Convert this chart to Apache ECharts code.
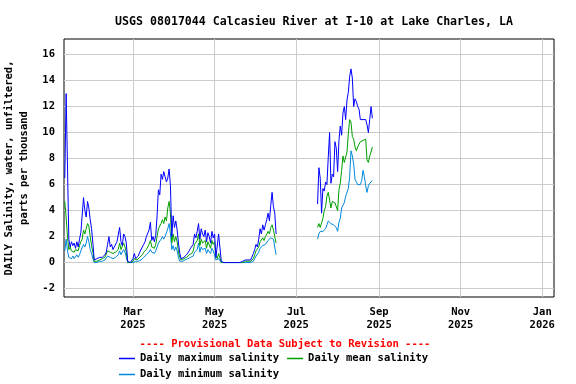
<!DOCTYPE html>
<html>
<head>
<meta charset="utf-8">
<script src="https://cdn.jsdelivr.net/npm/echarts@6/dist/echarts.min.js"></script>
<style>
  html, body { margin: 0; padding: 0; background: #fff; }
  #main { width: 576px; height: 384px; }
</style>
</head>
<body>
<div id="main"></div>
<script type="text/javascript">
// daily values, segment 1 starts 2025-01-09, segment 2 starts 2025-07-17
var seg1Start = [2025, 0, 9];
var seg2Start = [2025, 6, 17];

var maxSeg1 = [
  6.5, 13.0, 7.5, 1.8, 1.2, 1.6, 1.3, 1.5, 1.1, 1.6,
  1.2, 1.8, 2.3, 2.2, 5.0, 4.0, 3.5, 4.7, 4.2, 3.3,
  2.6, 1.5, 0.2, 0.2, 0.3, 0.3, 0.4, 0.4, 0.4, 0.5,
  0.6, 0.8, 1.4, 2.0, 1.2, 1.4, 1.0, 1.2, 1.1, 1.6,
  1.5, 2.7, 1.6, 1.3, 2.2, 2.0, 1.5, 0.1, 0.0, 0.0,
  0.1, 0.3, 0.7, 0.3, 0.4, 0.5, 0.8, 0.9, 1.2, 1.4,
  1.6, 2.0, 1.9, 2.5, 3.1, 1.7, 2.0, 1.6, 2.1, 3.6,
  5.6, 5.2, 6.8, 6.4, 7.0, 6.6, 6.2, 6.5, 7.2, 5.9,
  2.0, 3.6, 2.7, 3.2, 2.5, 1.5, 0.7, 0.3, 0.3, 0.4,
  0.4, 0.6, 0.7, 0.9, 1.1, 1.0, 1.4, 2.2, 1.9, 2.4,
  3.0, 1.8, 2.6, 2.2, 2.0, 2.5, 1.6, 2.3, 2.0, 1.5,
  2.4, 1.9, 2.2, 0.4, 0.3, 2.2, 2.2, 0.1, 0.0, 0.0,
  0.0, 0.0, 0.0, 0.0, 0.0, 0.0, 0.0, 0.0, 0.0, 0.0,
  0.0, 0.0, 0.0, 0.1, 0.1, 0.2, 0.1, 0.2, 0.3, 0.2,
  0.3, 0.7, 1.0, 1.4, 1.2, 1.8, 2.6, 2.2, 2.9, 2.5,
  2.9, 3.3, 3.8, 3.2, 4.4, 5.4, 4.3, 3.8, 2.2
];
var meanSeg1 = [
  4.7, 3.5, 2.0, 1.0, 1.2, 0.9, 1.0, 0.8, 1.0, 1.1,
  0.9, 1.3, 1.6, 1.8, 2.5, 2.2, 2.6, 3.0, 2.8, 2.0,
  1.3, 0.8, 0.1, 0.1, 0.1, 0.2, 0.2, 0.2, 0.3, 0.3,
  0.4, 0.5, 0.9, 1.0, 0.8, 0.7, 0.7, 0.6, 0.8, 0.9,
  1.0, 1.5, 1.0, 0.9, 1.5, 1.2, 0.8, 0.0, 0.0, 0.0,
  0.0, 0.1, 0.3, 0.2, 0.2, 0.3, 0.4, 0.5, 0.6, 0.8,
  0.9, 1.0, 1.2, 1.4, 1.7, 1.2, 1.3, 1.1, 1.4, 2.0,
  2.6, 2.5, 3.0, 3.3, 3.0, 3.5, 3.2, 4.2, 4.7, 3.8,
  1.5, 2.2, 1.6, 2.0, 1.6, 0.8, 0.4, 0.2, 0.2, 0.3,
  0.3, 0.4, 0.5, 0.6, 0.7, 0.7, 0.9, 1.4, 1.3, 1.7,
  2.2, 1.3, 1.8, 1.5, 1.4, 1.7, 1.1, 1.6, 1.5, 1.1,
  1.7, 1.4, 1.6, 0.5, 0.3, 0.7, 0.7, 0.0, 0.0, 0.0,
  0.0, 0.0, 0.0, 0.0, 0.0, 0.0, 0.0, 0.0, 0.0, 0.0,
  0.0, 0.0, 0.0, 0.0, 0.0, 0.1, 0.1, 0.1, 0.1, 0.1,
  0.1, 0.3, 0.6, 0.9, 0.8, 1.2, 1.6, 1.5, 1.9, 1.7,
  2.0, 2.1, 2.4, 2.2, 2.7, 2.9, 2.5, 2.4, 1.5
];
var minSeg1 = [
  0.9, 1.8, 0.9, 0.4, 0.5, 0.3, 0.5, 0.3, 0.4, 0.6,
  0.4, 0.6, 0.9, 1.0, 1.4, 1.2, 1.5, 2.0, 1.6, 1.0,
  0.7, 0.3, 0.0, 0.0, 0.0, 0.1, 0.1, 0.1, 0.1, 0.2,
  0.2, 0.3, 0.5, 0.6, 0.4, 0.4, 0.3, 0.3, 0.4, 0.5,
  0.6, 0.9, 0.6, 0.5, 1.0, 0.8, 0.4, 0.0, 0.0, 0.0,
  0.0, 0.0, 0.1, 0.1, 0.1, 0.1, 0.2, 0.2, 0.3, 0.4,
  0.5, 0.6, 0.7, 0.8, 1.0, 0.8, 0.8, 0.7, 0.9, 1.2,
  1.5, 1.5, 1.8, 2.0, 1.8, 2.0, 1.9, 2.6, 3.0, 2.2,
  1.0, 1.3, 0.9, 1.2, 0.9, 0.4, 0.1, 0.1, 0.1, 0.1,
  0.2, 0.2, 0.3, 0.3, 0.4, 0.4, 0.5, 0.8, 0.8, 1.0,
  1.5, 0.8, 1.2, 1.0, 0.9, 1.1, 0.7, 1.0, 1.0, 0.7,
  1.1, 0.9, 1.0, 0.2, 0.1, 0.3, 0.3, 0.0, 0.0, 0.0,
  0.0, 0.0, 0.0, 0.0, 0.0, 0.0, 0.0, 0.0, 0.0, 0.0,
  0.0, 0.0, 0.0, 0.0, 0.0, 0.0, 0.0, 0.0, 0.0, 0.0,
  0.0, 0.1, 0.3, 0.5, 0.5, 0.8, 1.1, 1.0, 1.3, 1.2,
  1.4, 1.5, 1.7, 1.6, 1.9, 2.0, 1.8, 1.9, 0.6
];

var maxSeg2 = [
  4.5, 7.3, 6.5, 3.8, 5.7, 5.5, 6.2, 6.0, 8.1, 10.0,
  6.1, 6.8, 6.6, 9.3, 8.8, 7.0, 9.4, 10.5, 9.8, 11.5,
  12.0, 11.0, 12.5, 13.1, 14.3, 14.9, 14.2, 12.0, 12.6, 12.4,
  12.0, 11.8, 11.0, 11.0, 11.0, 11.0, 11.0, 10.6, 10.0, 11.0,
  12.0, 11.1
];
var meanSeg2 = [
  2.7, 3.0, 2.7, 2.8, 3.4, 4.0, 4.3, 5.1, 5.4, 5.3,
  4.2, 4.7, 4.6, 4.6, 4.5, 4.0, 5.6, 6.1, 7.1, 8.2,
  7.7, 7.6, 8.5, 9.9, 11.0, 10.8, 9.7, 9.5, 8.9, 8.6,
  8.9, 9.1, 9.3, 9.3, 9.4, 9.4, 9.5, 7.9, 7.7, 8.2,
  8.5, 8.9
];
var minSeg2 = [
  1.8, 2.2, 2.4, 2.4, 2.4, 2.4, 2.6, 2.9, 3.2, 3.3,
  3.0, 2.9, 2.9, 2.8, 2.7, 2.4, 3.1, 3.4, 4.2, 4.3,
  4.6, 5.1, 5.2, 5.7, 6.6, 8.6, 8.2, 7.6, 6.4, 6.3,
  6.0, 6.1, 6.0, 6.3, 7.1, 6.6, 5.9, 5.4, 5.9, 6.1,
  6.2, 6.3
];

var seriesNames = ['Daily maximum salinity', 'Daily mean salinity', 'Daily minimum salinity'];
var seriesColors = ['#0000ff', '#00a000', '#0088dd'];
var monthNames = ['Jan','Feb','Mar','Apr','May','Jun','Jul','Aug','Sep','Oct','Nov','Dec'];
var xTickDates = [[2025,2,1],[2025,4,1],[2025,6,1],[2025,8,1],[2025,10,1],[2026,0,1]];
var yTicks = [-2, 0, 2, 4, 6, 8, 10, 12, 14, 16];

// x axis works in days since 2025-01-01
var DAY = 86400000;
var epoch = Date.UTC(2025, 0, 1);
function dayNum(y, m, d) {
  return (Date.UTC(y, m, d) - epoch) / DAY;
}
function dayLabel(v) {
  var d = new Date(epoch + Math.round(v) * DAY);
  return monthNames[d.getUTCMonth()] + '\n' + d.getUTCFullYear();
}
// join the two segments with a null in between so the line breaks
function build(a, b) {
  var s1 = dayNum(seg1Start[0], seg1Start[1], seg1Start[2]);
  var s2 = dayNum(seg2Start[0], seg2Start[1], seg2Start[2]);
  var out = [];
  for (var i = 0; i < a.length; i++) out.push([s1 + i, a[i]]);
  out.push([s1 + a.length, null]);
  for (var j = 0; j < b.length; j++) out.push([s2 + j, b[j]]);
  return out;
}

var font = 'DejaVu Sans Mono';
var txt = { fontFamily: font, fontSize: 10.5, fontWeight: 'bold', color: '#000' };
var xTicks = xTickDates.map(function (d) { return dayNum(d[0], d[1], d[2]); });

var chart = echarts.init(document.getElementById('main'));
var option = {
  animation: false,
  backgroundColor: '#fff',
  title: [{
    text: 'USGS 08017044 Calcasieu River at I-10 at Lake Charles, LA',
    left: 309, top: 11, textAlign: 'center',
    textStyle: { fontFamily: font, fontSize: 11.6, fontWeight: 'bold', color: '#000' }
  }, {
    text: '---- Provisional Data Subject to Revision ----',
    left: 280, top: 334, textAlign: 'center',
    textStyle: { fontFamily: font, fontSize: 10.5, fontWeight: 'bold', color: '#ff0000' }
  }],
  legend: [{
    data: [seriesNames[0], seriesNames[1]],
    left: 119, top: 353, padding: 0, itemWidth: 16, itemHeight: 1.5, itemGap: 8,
    icon: 'rect',
    textStyle: txt
  }, {
    data: [seriesNames[2]],
    left: 119, top: 369, padding: 0, itemWidth: 16, itemHeight: 1.5,
    icon: 'rect',
    textStyle: txt
  }],
  grid: {
    left: 64, right: 22, top: 39, bottom: 87,
    outerBoundsMode: 'none', containLabel: false,
    show: true, borderColor: '#000', borderWidth: 1, backgroundColor: 'transparent'
  },
  xAxis: {
    type: 'value',
    min: 7.4, max: 373.8,
    axisLine: { show: false },
    axisTick: { show: false, customValues: xTicks },
    splitLine: { show: true, lineStyle: { color: '#cccccc', width: 1 } },
    axisLabel: Object.assign({ customValues: xTicks, margin: 9, lineHeight: 13, formatter: dayLabel }, txt)
  },
  yAxis: {
    type: 'value',
    min: -2.65, max: 17.2,
    name: 'DAILY Salinity, water, unfiltered,\nparts per thousand',
    nameLocation: 'middle', nameRotate: 90, nameGap: 30,
    nameTextStyle: Object.assign({ lineHeight: 15 }, txt),
    axisLine: { show: false },
    axisTick: { show: false, customValues: yTicks },
    splitLine: { show: true, lineStyle: { color: '#cccccc', width: 1 } },
    axisLabel: Object.assign({ customValues: yTicks, margin: 9 }, txt)
  },
  series: [
    { name: seriesNames[0], type: 'line', data: build(maxSeg1, maxSeg2) },
    { name: seriesNames[1], type: 'line', data: build(meanSeg1, meanSeg2) },
    { name: seriesNames[2], type: 'line', data: build(minSeg1, minSeg2) }
  ].map(function (s, i) {
    s.symbol = 'none';
    s.showSymbol = false;
    s.color = seriesColors[i];
    s.lineStyle = { width: 1, color: seriesColors[i] };
    s.z = 3 - i;
    return s;
  })
};
chart.setOption(option);
</script>
</body>
</html>
